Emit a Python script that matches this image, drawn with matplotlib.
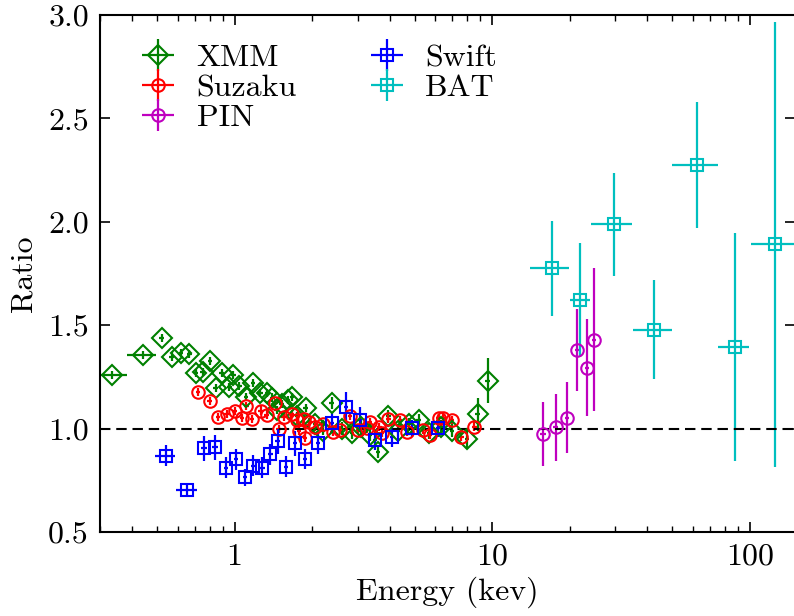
import numpy as np
import matplotlib
matplotlib.use("Agg")
import matplotlib.pyplot as plt

plt.rcParams['font.family'] = 'serif'
plt.rcParams['font.serif'] = ['cmr10']
plt.rcParams['mathtext.fontset'] = 'cm'
plt.rcParams['axes.formatter.use_mathtext'] = True

# XMM
xmm_e = [0.333, 0.44, 0.521, 0.569, 0.619, 0.667, 0.708, 0.752, 0.803, 0.845, 0.891,
         0.953, 0.989, 1.043, 1.107, 1.182, 1.255, 1.339, 1.40, 1.457, 1.52, 1.617,
         1.666, 1.75, 1.89, 2.05, 2.2, 2.38, 2.6, 2.85, 3.1, 3.35, 3.61, 3.95, 4.3,
         4.75, 5.18, 5.7, 6.3, 7.0, 7.96, 8.78, 9.6]
xmm_r = [1.259, 1.357, 1.437, 1.348, 1.364, 1.359, 1.267, 1.275, 1.328, 1.195, 1.267,
         1.200, 1.259, 1.206, 1.154, 1.219, 1.171, 1.171, 1.15, 1.090, 1.12, 1.138,
         1.154, 1.06, 1.098, 1.02, 0.99, 1.125, 1.0, 0.98, 1.01, 0.97, 0.888, 1.062,
         0.99, 1.02, 1.042, 0.98, 1.01, 0.99, 0.949, 1.070, 1.232]
xmm_xerr = [0.048, 0.057, 0.012, 0.012, 0.013, 0.014, 0.015, 0.016, 0.017, 0.018, 0.019,
            0.02, 0.02, 0.02, 0.02, 0.02, 0.03, 0.03, 0.03, 0.03, 0.03, 0.03,
            0.03, 0.04, 0.04, 0.04, 0.04, 0.05, 0.05, 0.05, 0.06, 0.06, 0.07, 0.08, 0.08,
            0.09, 0.1, 0.1, 0.12, 0.13, 0.15, 0.17, 0.2]
xmm_yerr = [0.02, 0.02, 0.02, 0.02, 0.02, 0.02, 0.02, 0.02, 0.02, 0.02, 0.02,
            0.02, 0.02, 0.02, 0.02, 0.02, 0.02, 0.02, 0.02, 0.02, 0.02, 0.02,
            0.02, 0.02, 0.02, 0.02, 0.02, 0.03, 0.03, 0.03, 0.03, 0.03, 0.03, 0.03, 0.03,
            0.03, 0.03, 0.03, 0.03, 0.03, 0.05, 0.08, 0.11]

# Suzaku
suz_e = [0.72, 0.80, 0.86, 0.93, 1.00, 1.07, 1.11, 1.17, 1.26, 1.33, 1.44, 1.48, 1.55,
         1.67, 1.74, 1.78, 1.86, 1.88, 1.95, 2.05, 2.21, 2.40, 2.57, 2.81, 3.02, 3.26,
         3.36, 3.65, 3.72, 3.95, 4.39, 4.66, 5.41, 5.74, 6.19, 6.46, 6.96, 7.60, 8.53]
suz_r = [1.178, 1.133, 1.055, 1.069, 1.085, 1.050, 1.109, 1.045, 1.087, 1.066, 1.122,
         0.997, 1.058, 1.069, 1.042, 0.990, 1.045, 0.953, 1.030, 1.009, 1.022, 0.985,
         0.993, 1.061, 0.993, 1.001, 1.033, 1.009, 0.977, 1.045, 1.042, 0.985, 0.993,
         0.969, 1.050, 1.050, 1.042, 0.958, 1.010]
suz_yerr = 0.02
suz_xerr = [0.02 * e for e in suz_e]

# PIN
pin_e = [15.77, 17.66, 19.54, 21.42, 23.3, 24.8]
pin_r = [0.974, 1.006, 1.051, 1.379, 1.293, 1.428]
pin_rlo = [0.819, 0.845, 0.880, 1.180, 1.061, 1.085]
pin_rhi = [1.130, 1.166, 1.227, 1.580, 1.529, 1.775]

# Swift
swift_e = [0.540, 0.652, 0.760, 0.839, 0.926, 1.01, 1.098, 1.182, 1.281, 1.376, 1.470,
           1.584, 1.721, 1.877, 2.114, 2.38, 2.70, 3.07, 3.51, 4.10, 4.90, 6.16]
swift_r = [0.869, 0.703, 0.905, 0.910, 0.811, 0.852, 0.764, 0.821, 0.811, 0.876, 0.939,
           0.816, 0.929, 0.853, 0.929, 1.029, 1.106, 1.042, 0.945, 0.961, 1.001, 1.001]
swift_xerr = [0.048, 0.062, 0.02, 0.02, 0.02, 0.02, 0.02, 0.02, 0.03, 0.03, 0.03,
              0.03, 0.03, 0.04, 0.04, 0.05, 0.05, 0.06, 0.07, 0.08, 0.1, 0.12]
swift_yerr = [0.05, 0.03, 0.06, 0.06, 0.05, 0.05, 0.04, 0.05, 0.05, 0.05, 0.06,
              0.05, 0.06, 0.05, 0.05, 0.05, 0.07, 0.06, 0.05, 0.05, 0.04, 0.04]

# BAT
bat_e = [17.0, 22.0, 29.6, 42.6, 62.5, 87.5, 125.2]
bat_lo = [14.0, 20.1, 24.1, 35.2, 50.1, 75.6, 100.9]
bat_hi = [19.9, 24.0, 34.9, 49.8, 75.2, 99.7, 155.0]
bat_r = [1.778, 1.620, 1.988, 1.478, 2.275, 1.395, 1.891]
bat_rlo = [1.546, 1.348, 1.739, 1.238, 1.969, 0.843, 0.816]
bat_rhi = [2.005, 1.896, 2.237, 1.717, 2.581, 1.944, 2.966]


def asym(c, lo, hi):
    c = np.array(c)
    return [c - np.array(lo), np.array(hi) - c]


fig = plt.figure(figsize=(7.94, 6.16), dpi=100)
ax = fig.add_axes([0.126, 0.1364, 0.8753, 0.8393])

kw = dict(ls='none', mfc='none', mew=1.5, elinewidth=1.6, capsize=0)
ax.errorbar(xmm_e, xmm_r, xerr=xmm_xerr, yerr=xmm_yerr, fmt='D', color='g', ms=10,
            label='XMM', **kw)
ax.errorbar(suz_e, suz_r, xerr=suz_xerr, yerr=suz_yerr, fmt='o', color='r', ms=9,
            label='Suzaku', **kw)
ax.errorbar(pin_e, pin_r, xerr=0.4, yerr=asym(pin_r, pin_rlo, pin_rhi), fmt='o',
            color='m', ms=9, label='PIN', **kw)
ax.errorbar(swift_e, swift_r, xerr=swift_xerr, yerr=swift_yerr, fmt='s', color='b',
            ms=8, label='Swift', **kw)
ax.errorbar(bat_e, bat_r, xerr=asym(bat_e, bat_lo, bat_hi),
            yerr=asym(bat_r, bat_rlo, bat_rhi), fmt='s', color='c', ms=8,
            label='BAT', **kw)

ax.axhline(1.0, color='k', ls='--', lw=1.5, dashes=(5, 2.8))

ax.set_xscale('log')
ax.set_xlim(0.3, 150)
ax.set_ylim(0.5, 3.0)
ax.set_yticks([0.5, 1.0, 1.5, 2.0, 2.5, 3.0])
ax.set_yticklabels(['0.5', '1.0', '1.5', '2.0', '2.5', '3.0'])
ax.set_xticks([1, 10, 100])
ax.set_xticklabels(['1', '10', '100'])

ax.tick_params(which='both', direction='in', top=True, right=True, labelsize=23)
ax.tick_params(which='major', length=7, width=1.2, pad=8)
ax.tick_params(which='minor', length=4, width=1)
for s in ax.spines.values():
    s.set_linewidth(1.5)

ax.set_xlabel('Energy (kev)', fontsize=23, labelpad=4)
ax.set_ylabel('Ratio', fontsize=23, labelpad=8)

ax.legend(loc='upper left', ncol=2, frameon=False, fontsize=23, handlelength=1.2,
          handletextpad=0.6, columnspacing=2.2, labelspacing=0.05,
          bbox_to_anchor=(0.015, 1.0))

fig.savefig('out.png', dpi=100)
